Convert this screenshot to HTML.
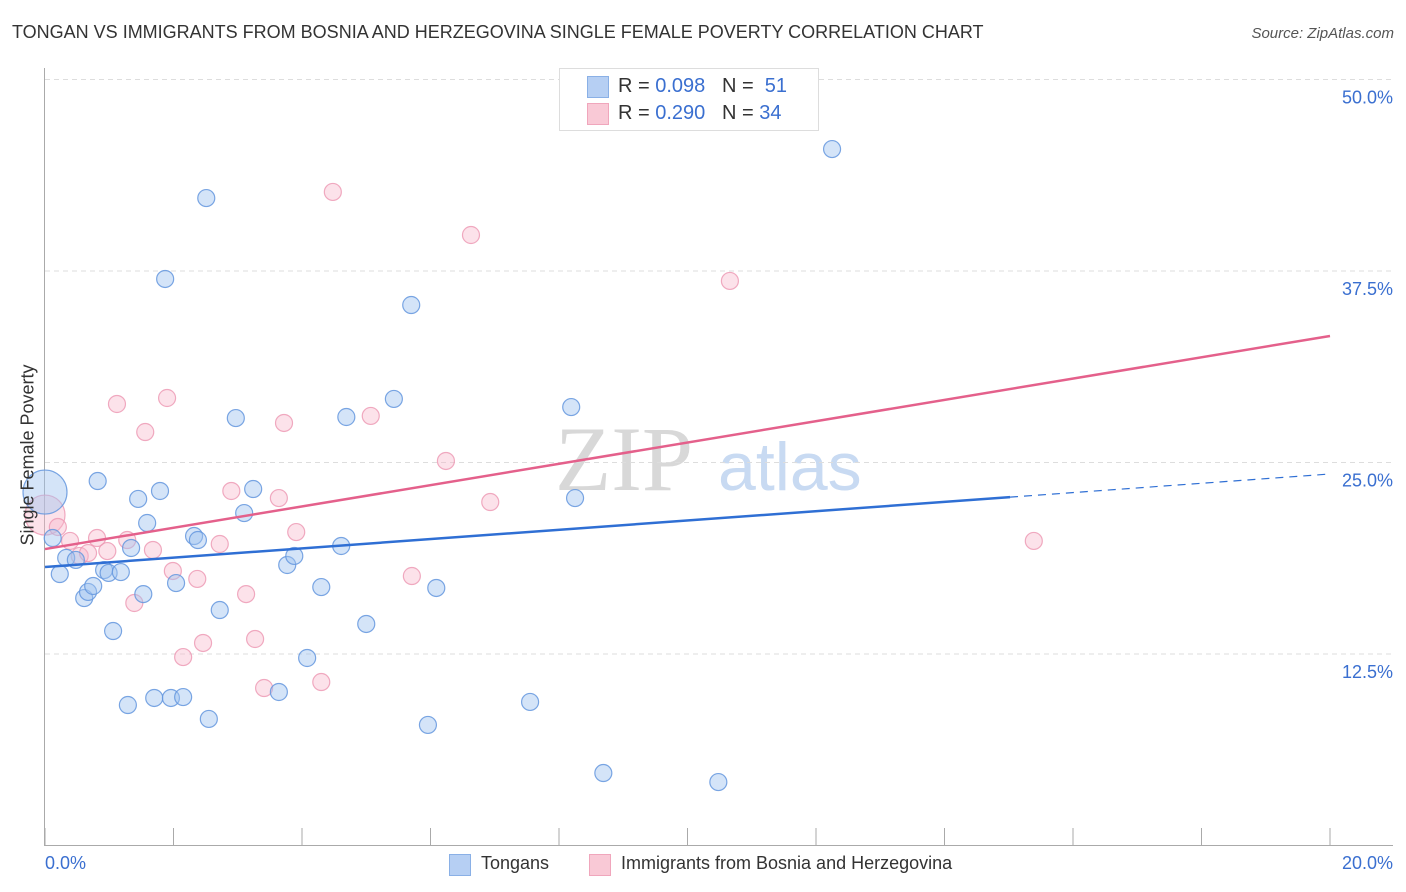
<!DOCTYPE html>
<html><head><meta charset="utf-8"><style>
body{margin:0;background:#fff;font-family:"Liberation Sans",sans-serif;}
#wrap{position:relative;width:1406px;height:892px;overflow:hidden;}
.t{position:absolute;white-space:nowrap;}
</style></head><body>
<div id="wrap">
<div class="t" style="left:12px;top:22px;font-size:18px;color:#333;">TONGAN VS IMMIGRANTS FROM BOSNIA AND HERZEGOVINA SINGLE FEMALE POVERTY CORRELATION CHART</div>
<div class="t" style="right:12px;top:25px;font-size:15px;color:#555;font-style:italic;">Source: ZipAtlas.com</div>
<svg id="plot" width="1406" height="892" style="position:absolute;left:0;top:0">
<text x="555" y="490" font-family="Liberation Serif,serif" font-size="92" fill="#d8d8d8">ZIP</text>
<text x="718" y="490" font-family="Liberation Sans,sans-serif" font-size="68" fill="#c8daf2">atlas</text>
</svg>
<div class="t" style="left:28px;top:455px;font-size:18px;color:#333;transform:translate(-50%,-50%) rotate(-90deg);">Single Female Poverty</div>
<div style="position:absolute;left:559px;top:68px;width:258px;height:61px;border:1px solid #ddd;background:#fff;font-size:20px;color:#333;">
<div style="position:absolute;left:27px;top:7px;width:20px;height:20px;background:#b6cff3;border:1px solid #8ab0e6;"></div>
<div class="t" style="left:58px;top:6px;">R = <span style="color:#3a6fd0">0.098</span>&nbsp;&nbsp;&nbsp;N = &nbsp;<span style="color:#3a6fd0">51</span></div>
<div style="position:absolute;left:27px;top:34px;width:20px;height:20px;background:#f9c9d6;border:1px solid #f0a6bc;"></div>
<div class="t" style="left:58px;top:33px;">R = <span style="color:#3a6fd0">0.290</span>&nbsp;&nbsp;&nbsp;N = <span style="color:#3a6fd0">34</span></div>
</div>
<div class="t" style="left:45px;top:853px;font-size:18px;color:#3a6fd0;">0.0%</div>
<div class="t" style="right:13px;top:853px;font-size:18px;color:#3a6fd0;">20.0%</div>
<div style="position:absolute;left:449px;top:854px;width:20px;height:20px;background:#b6cff3;border:1px solid #8ab0e6;"></div>
<div class="t" style="left:481px;top:853px;font-size:18px;color:#333;">Tongans</div>
<div style="position:absolute;left:589px;top:854px;width:20px;height:20px;background:#f9c9d6;border:1px solid #f0a6bc;"></div>
<div class="t" style="left:621px;top:853px;font-size:18px;color:#333;">Immigrants from Bosnia and Herzegovina</div>
</div>
<script>
const yTicks=[12.5,25,37.5,50];
const yTickLabels=["12.5%","25.0%","37.5%","50.0%"];
const xTicks=[0,2,4,6,8,10,12,14,16,18,20];
const tongX=[0,0.12,0.23,0.33,0.48,0.61,0.67,0.75,0.82,0.92,0.99,1.06,1.18,1.29,1.34,1.45,1.53,1.59,1.70,1.79,1.87,1.96,2.04,2.15,2.32,2.38,2.51,2.55,2.72,2.97,3.10,3.24,3.64,3.77,3.88,4.08,4.30,4.61,4.69,5.00,5.43,5.70,5.96,6.09,7.55,8.19,8.25,8.69,10.48,12.25];
const tongY=[23.07,20.07,17.72,18.77,18.64,16.15,16.55,16.94,23.79,17.98,17.79,14.00,17.85,9.17,19.42,22.62,16.41,21.05,9.63,23.14,36.98,9.63,17.13,9.69,20.20,19.94,42.26,8.26,15.37,27.90,21.70,23.27,10.02,18.31,18.90,12.24,16.87,19.55,27.97,14.46,29.15,35.28,7.87,16.81,9.37,28.62,22.68,4.73,4.14,45.46];
const bosX=[0,0.20,0.39,0.54,0.67,0.81,0.97,1.12,1.28,1.39,1.56,1.68,1.90,1.99,2.15,2.37,2.46,2.72,2.90,3.13,3.27,3.41,3.64,3.72,3.91,4.30,4.48,5.07,5.71,6.24,6.63,6.93,10.66,15.39];
const bosY=[21.57,20.79,19.88,18.90,19.09,20.07,19.22,28.82,19.94,15.83,26.99,19.29,29.21,17.92,12.30,17.40,13.22,19.68,23.14,16.41,13.48,10.28,22.68,27.58,20.46,10.67,42.66,28.04,17.59,25.10,39.85,22.42,36.85,19.88];
const tongTrend=[18.18,24.25];
const bosTrend=[19.35,33.26];
const X0=45,X1=1330,Y0=845.5,YPER=15.32;
function sx(v){return X0+(v/20)*(X1-X0);}
function sy(v){return Y0-v*YPER;}
const svg=document.getElementById('plot');
const NS='http://www.w3.org/2000/svg';
function mk(tag,attrs){const e=document.createElementNS(NS,tag);for(const k in attrs)e.setAttribute(k,attrs[k]);svg.appendChild(e);return e;}
yTicks.forEach((v,i)=>{
  const g=mk('line',{x1:45,x2:1393,y1:sy(v),y2:sy(v),stroke:'#ddd','stroke-dasharray':'5,4'});
  
  
  const t=mk('text',{x:1393,y:sy(v)+24,'text-anchor':'end','font-size':18,fill:'#3a6fd0','font-family':'Liberation Sans,sans-serif'});
  t.textContent=yTickLabels[i];
  
  
});
const ax=mk('line',{x1:44.5,x2:44.5,y1:68,y2:846,stroke:'#aaa'});


const bx=mk('line',{x1:44,x2:1393,y1:845.5,y2:845.5,stroke:'#aaa'});


xTicks.forEach(v=>{
  const l=mk('line',{x1:sx(v),x2:sx(v),y1:828,y2:846,stroke:'#aaa'});
  
  
});
function dots(xs,ys,fill,stroke,name){
  xs.forEach((x,i)=>{
    const r=(x===0)?(name==='tongan-point'?22:20):8.5;
    const c=mk('circle',{cx:sx(x),cy:sy(ys[i]),r:r,fill:fill,stroke:stroke,'stroke-width':1.2});
    
    
  });
}
dots(bosX,bosY,'rgba(248,182,202,0.4)','rgba(236,150,178,0.8)','bosnia-point');
dots(tongX,tongY,'rgba(160,196,240,0.45)','rgba(100,150,222,0.85)','tongan-point');
const xe=15.02;
const ty=v=>tongTrend[0]+(tongTrend[1]-tongTrend[0])*v/20;
let l1=mk('line',{x1:sx(0),y1:sy(ty(0)),x2:sx(xe),y2:sy(ty(xe)),stroke:'#2f6fd4','stroke-width':2.5});


let l2=mk('line',{x1:sx(xe),y1:sy(ty(xe)),x2:sx(20),y2:sy(ty(20)),stroke:'#2f6fd4','stroke-width':1.2,'stroke-dasharray':'8,6'});


let l3=mk('line',{x1:sx(0),y1:sy(bosTrend[0]),x2:sx(20),y2:sy(bosTrend[1]),stroke:'#e4608b','stroke-width':2.5});


</script>
</body></html>
